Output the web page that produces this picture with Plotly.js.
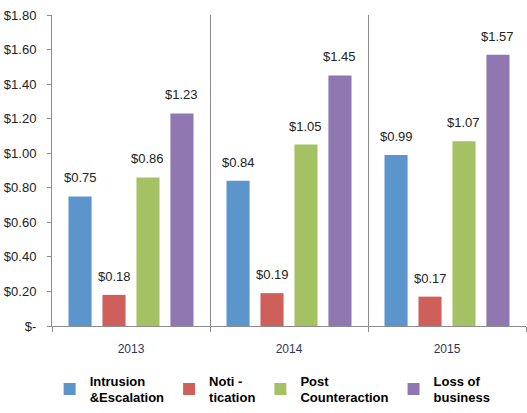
<!DOCTYPE html>
<html>
<head>
<meta charset="utf-8">
<script src="https://cdn.plot.ly/plotly-3.0.1.min.js"></script>
<style>html,body{margin:0;padding:0;background:#fff;}#chart{width:527px;height:413px;}</style>
</head>
<body>
<div id="chart"></div>
<script>
// ---- data ----
const years = ['2013', '2014', '2015'];
const seriesNames = ['Intrusion<br>&Escalation', 'Noti -<br>tication', 'Post<br>Counteraction', 'Loss of<br>business'];
const intrusionEscalation = [0.75, 0.84, 0.99];
const notification = [0.18, 0.19, 0.17];
const postCounteraction = [0.86, 1.05, 1.07];
const lossOfBusiness = [1.23, 1.45, 1.57];
const yTickVals = [0, 0.2, 0.4, 0.6, 0.8, 1.0, 1.2, 1.4, 1.6, 1.8];
const yTickText = ['$-', '$0.20', '$0.40', '$0.60', '$0.80', '$1.00', '$1.20', '$1.40', '$1.60', '$1.80'];

// ---- style ----
const colors = ['#5b95cc', '#cf5f5b', '#a4c263', '#8f77b2'];
const narrow = '"Liberation Sans Narrow", "Arial Narrow", "Liberation Sans", Arial, sans-serif';
const W = 527, H = 413;
const margin = {l: 52, r: 1, t: 15, b: 87};
const bargap = 0.14, bargroupgap = 0.32;

const allSeries = [intrusionEscalation, notification, postCounteraction, lossOfBusiness];
const traces = allSeries.map((vals, i) => ({
  type: 'bar',
  name: seriesNames[i],
  x: years,
  y: vals,
  marker: {color: colors[i]},
  hoverinfo: 'skip'
}));

// value labels above bars, placed via axis coordinates (category index) + group offset
const plotW = W - margin.l - margin.r;
const catW = plotW / years.length;
const slot = catW * (1 - bargap) / allSeries.length;
const annotations = [];
allSeries.forEach((vals, i) => {
  vals.forEach((v, j) => {
    annotations.push({
      x: j, y: v, xref: 'x', yref: 'y',
      text: '$' + v.toFixed(2),
      showarrow: false,
      xanchor: 'center', yanchor: 'bottom',
      xshift: (i - (allSeries.length - 1) / 2) * slot,
      yshift: 9,
      font: {family: narrow, size: 13, color: '#222'}
    });
  });
});

const layout = {
  width: W, height: H,
  margin: margin,
  paper_bgcolor: '#fff',
  plot_bgcolor: '#fff',
  barmode: 'group',
  bargap: bargap,
  bargroupgap: bargroupgap,
  showlegend: true,
  legend: {
    orientation: 'h',
    x: -0.005, xanchor: 'left',
    y: -0.127, yanchor: 'top',
    font: {family: '"Liberation Sans", Arial, sans-serif', size: 13, color: '#000', weight: 'bold'},
    itemsizing: 'constant',
    traceorder: 'normal'
  },
  xaxis: {
    type: 'category',
    categoryorder: 'array',
    categoryarray: years,
    range: [-0.5, years.length - 0.5],
    tickson: 'boundaries',
    showgrid: true,
    gridcolor: '#8c8c8c',
    gridwidth: 1,
    showline: true,
    linecolor: '#8c8c8c',
    ticks: 'outside',
    ticklen: 5,
    tickcolor: '#8c8c8c',
    ticklabelstandoff: 12,
    tickfont: {family: narrow, size: 12, color: '#333355'},
    zeroline: false,
    fixedrange: true
  },
  yaxis: {
    range: [0, 1.8],
    tickvals: yTickVals,
    ticktext: yTickText,
    showgrid: false,
    zeroline: false,
    showline: true,
    linecolor: '#8c8c8c',
    ticks: 'outside',
    ticklen: 4,
    tickcolor: '#8c8c8c',
    ticklabelstandoff: 8,
    tickfont: {family: narrow, size: 13, color: '#222'},
    fixedrange: true
  },
  annotations: annotations
};

Plotly.newPlot('chart', traces, layout, {staticPlot: true, displayModeBar: false});
</script>
</body>
</html>
